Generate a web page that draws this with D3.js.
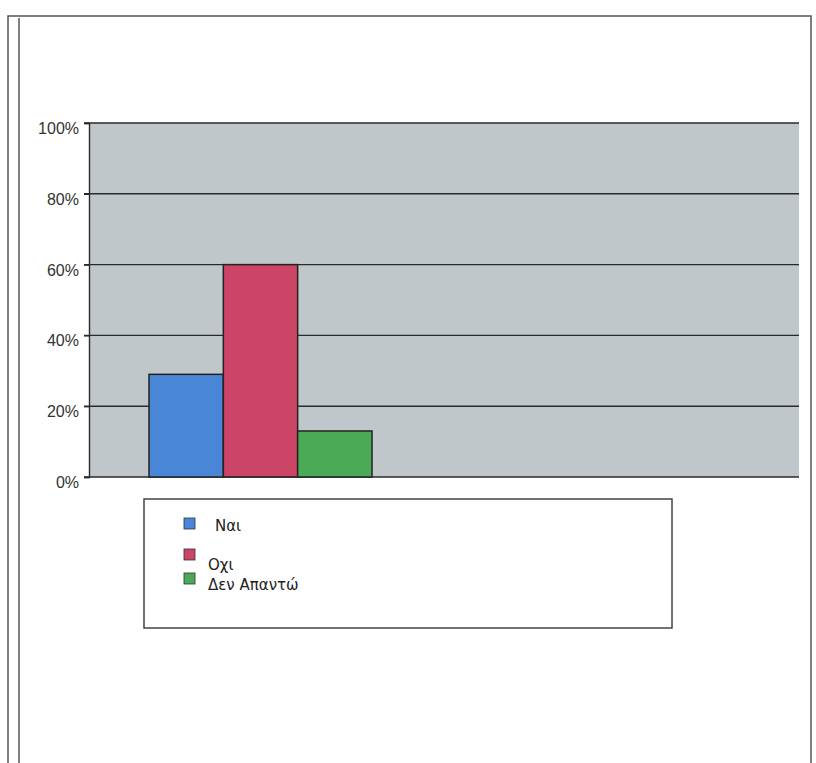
<!DOCTYPE html>
<html><head><meta charset="utf-8">
<script src="https://cdn.jsdelivr.net/npm/d3@7"></script>
<style>body{margin:0;background:#fff}svg{display:block}</style>
</head><body><svg id="c" width="816" height="763"></svg>
<script>
const categories = ["1", "2"];
const series = ["Ναι", "Οχι", "Δεν Απαντώ"];
const values = [[29, 60, 13], [null, null, null]];
const colors = ["#4a86d8", "#cc4466", "#4aaa55"];
const yTicks = [0, 20, 40, 60, 80, 100];

const svg = d3.select("#c");
// frame
const fr = svg.append("g").attr("stroke", "#555").attr("stroke-width", 1.5).attr("fill", "none");
fr.append("path").attr("d", "M8,763 V16 H811 V763");
fr.append("path").attr("d", "M19,763 V18");

const L = 89, R = 799, T = 123, B = 477;
const y = d3.scaleLinear().domain([0, 100]).range([B, T]);
const x0 = d3.scaleBand().domain(categories).range([L, R]);
const x1 = d3.scaleBand().domain(series).range([60, 283]);

svg.append("rect").attr("x", L).attr("y", T).attr("width", R - L).attr("height", B - T).attr("fill", "#c0c7cb");

// grid lines
svg.append("g").selectAll("line").data(yTicks).join("line")
  .attr("x1", L - 5).attr("x2", R).attr("y1", d => y(d)).attr("y2", d => y(d))
  .attr("stroke", "#2a2a2a").attr("stroke-width", 1.4);

// bars
const flat = [];
categories.forEach((c, i) => series.forEach((s, j) => { if (values[i][j] != null) flat.push({c, s, v: values[i][j], j}); }));
svg.append("g").selectAll("rect").data(flat).join("rect")
  .attr("x", d => x0(d.c) + x1(d.s)).attr("width", x1.bandwidth())
  .attr("y", d => y(d.v)).attr("height", d => y(0) - y(d.v))
  .attr("fill", d => colors[d.j]).attr("stroke", "#222").attr("stroke-width", 1.5);

// y axis
const ax = svg.append("g").attr("transform", `translate(${L},0)`)
  .call(d3.axisLeft(y).tickValues(yTicks).tickFormat(d => d + "%").tickSize(5).tickPadding(5));
ax.select(".domain").attr("stroke", "#2a2a2a").attr("stroke-width", 1.4);
ax.selectAll(".tick line").attr("stroke", "#2a2a2a").attr("stroke-width", 1.4);
ax.selectAll(".tick text").attr("font-family", "Liberation Sans, Arial, sans-serif").attr("font-size", 16)
  .attr("fill", "#333").attr("dy", "0.65em");

// legend
svg.append("rect").attr("x", 144).attr("y", 499).attr("width", 528).attr("height", 129)
  .attr("fill", "#fff").attr("stroke", "#444").attr("stroke-width", 1.5);
const legY = [518, 549, 573];
const legText = [531, 570, 590];
const lg = svg.append("g");
series.forEach((s, j) => {
  lg.append("rect").attr("x", 184).attr("y", legY[j]).attr("width", 11).attr("height", 11)
    .attr("fill", colors[j]).attr("stroke", "#333").attr("stroke-width", 0.8);
  lg.append("text").attr("x", j === 0 ? 215 : 208).attr("y", legText[j])
    .attr("font-family", "DejaVu Sans, sans-serif").attr("font-size", 15).attr("fill", "#222").text(s);
});
</script></body></html>
